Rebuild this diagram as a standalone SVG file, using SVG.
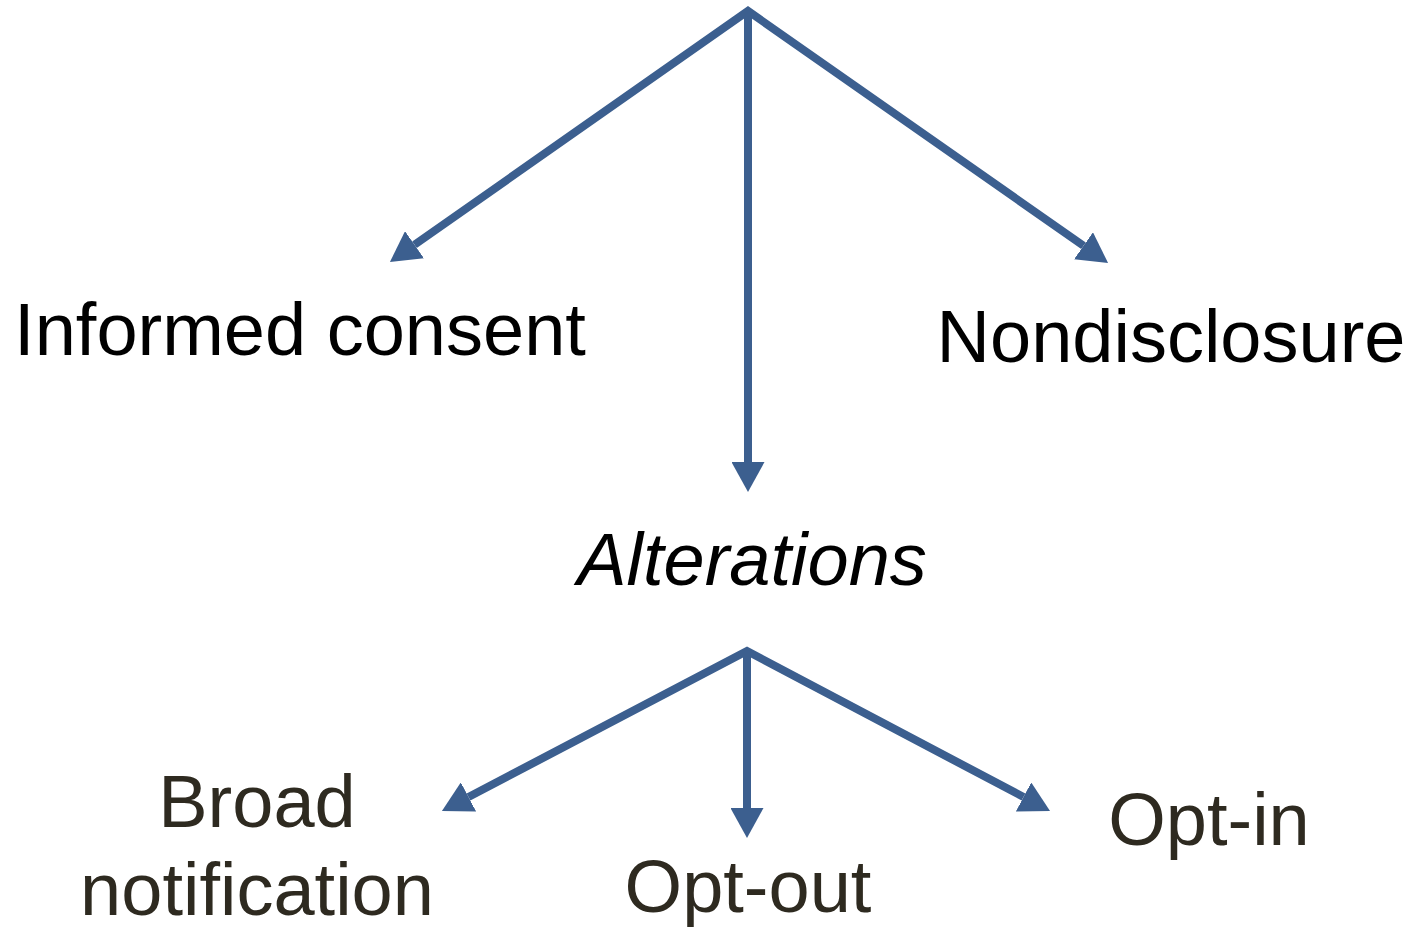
<svg xmlns="http://www.w3.org/2000/svg" width="1418" height="927" viewBox="0 0 1418 927">
<style>
.ln{fill:none;stroke:#3C5F8F;stroke-width:8;stroke-linejoin:miter;stroke-miterlimit:10}
.t{font-family:"Liberation Sans",Arial,sans-serif;font-size:74px;text-anchor:middle}
.k{fill:#000}
.b{fill:#2E2A20}
</style>
<defs>
<marker id="ah" viewBox="0 0 30 33" refX="0" refY="16.5" markerWidth="30" markerHeight="33" markerUnits="userSpaceOnUse" orient="auto-start-reverse">
<path d="M0,0 L30,16.5 L0,33 z" fill="#3C5F8F"/>
</marker>
</defs>
<rect width="1418" height="927" fill="#fff"/>
<g id="connectors">
<path class="ln" d="M414.5,244.7 L748,11 L1083.5,245.8" marker-start="url(#ah)" marker-end="url(#ah)"/>
<path class="ln" d="M748,11 L748,462" marker-end="url(#ah)"/>
<path class="ln" d="M468.5,797 L747,651 L1023.5,797" marker-start="url(#ah)" marker-end="url(#ah)"/>
<path class="ln" d="M747,651 L747,808" marker-end="url(#ah)"/>
</g>
<g id="informed-consent"><text class="t k" x="300" y="355">Informed consent</text></g>
<g id="nondisclosure"><text class="t k" x="1171" y="362">Nondisclosure</text></g>
<g id="alterations"><text class="t k" x="752" y="585" font-style="italic">Alterations</text></g>
<g id="broad-notification"><text class="t b" x="257" y="827">Broad</text><text class="t b" x="257" y="915">notification</text></g>
<g id="opt-out"><text class="t b" x="748" y="912">Opt-out</text></g>
<g id="opt-in"><text class="t b" x="1209" y="845">Opt-in</text></g>
</svg>
